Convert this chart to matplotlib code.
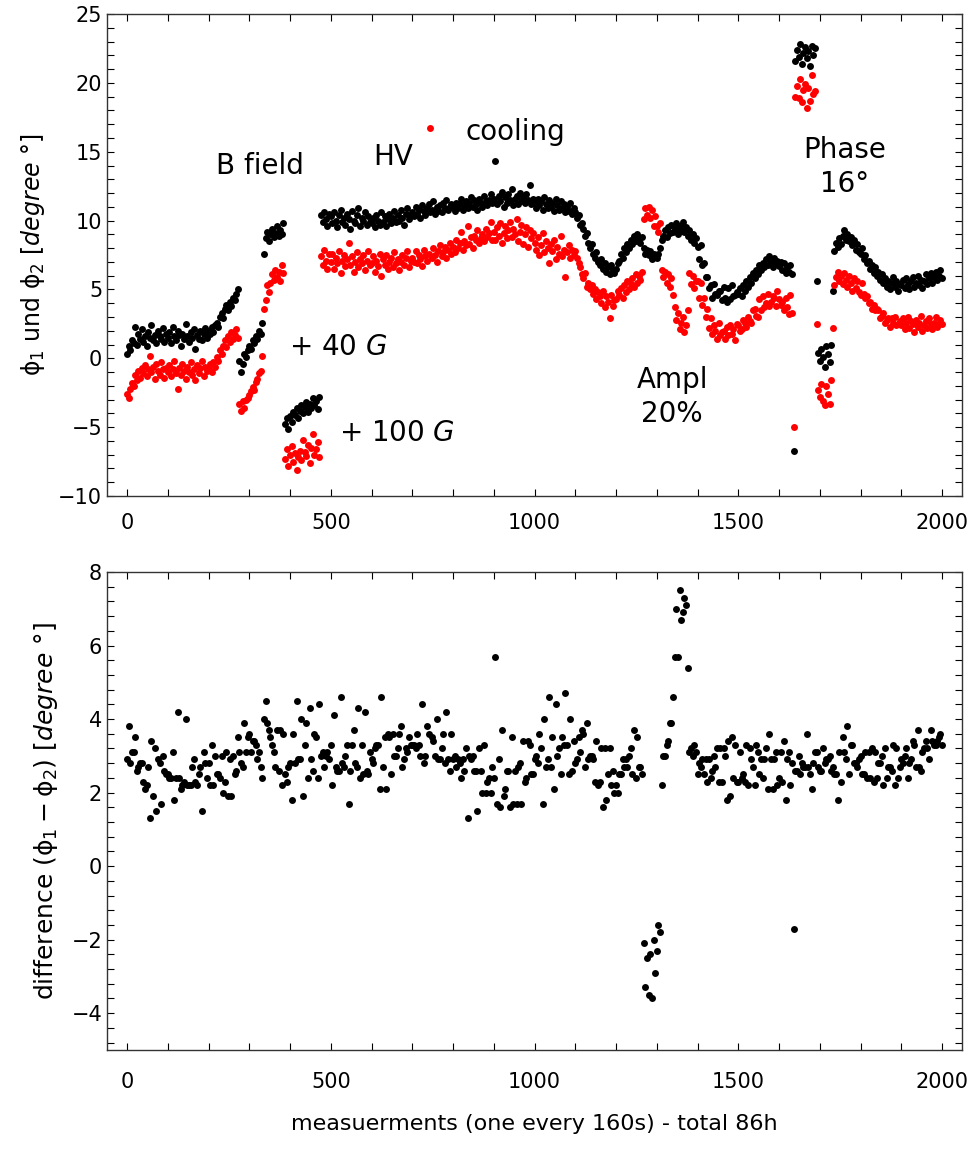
import numpy as np
import matplotlib
matplotlib.use("Agg")
import matplotlib.pyplot as plt
from matplotlib.ticker import MultipleLocator

# measurement index (one every 160 s), sampled every 4th measurement
meas = np.arange(0, 2001, 4)

# phi1 (black), one row per 100 measurements
phi1 = [
 0.3,0.9,0.6,1.3,1.1,2.3,1.0,1.8,1.4,2.1,1.2,1.6,0.9,1.9,1.5,2.4,1.3,1.7,1.1,2.0,1.6,1.4,2.2,1.2,1.8,
 1.5,1.9,1.1,2.3,1.6,1.3,2.0,1.7,0.9,1.8,1.4,2.5,1.6,1.2,1.9,1.5,2.1,0.7,1.7,1.4,2.0,1.3,1.8,2.2,1.5,
 2.0,1.8,2.3,1.9,2.4,2.6,2.3,3.0,3.3,2.9,3.6,3.9,3.5,4.1,3.8,4.4,4.2,4.7,5.0,-0.2,-1.0,-0.4,0.3,0.1,0.6,
 0.9,0.7,1.3,1.1,1.6,1.4,2.0,1.8,2.6,7.6,8.7,9.2,8.5,9.0,9.4,8.8,9.1,9.6,8.9,9.3,9.0,9.8,-4.8,-4.3,-5.1,
 -4.2,-4.6,-3.9,-4.1,-3.6,-4.3,-3.8,-3.4,-4.0,-3.5,-3.2,-3.9,-3.3,-3.6,-2.9,-3.4,-3.1,-3.7,-2.8,10.4,9.9,10.6,10.1,9.6,10.5,
 10.3,9.8,10.6,10.0,9.5,10.4,10.8,9.9,10.2,9.7,10.5,10.1,9.4,10.7,10.0,9.8,10.4,10.9,9.6,10.2,10.0,10.6,9.7,10.3,9.9,
 9.8,10.2,9.5,10.4,10.0,9.7,10.6,9.9,10.3,9.6,10.1,10.5,9.8,10.2,10.7,9.9,10.4,10.0,10.8,10.2,9.7,10.5,10.9,10.1,10.4,
 10.6,10.3,11.0,10.5,10.8,10.2,11.1,10.7,10.4,10.9,11.2,10.6,10.8,11.4,10.5,11.0,10.7,11.1,10.6,11.3,10.9,11.5,10.8,11.0,11.2,
 11.0,10.7,11.3,10.9,11.2,11.6,10.8,11.1,11.4,10.9,11.3,11.7,11.0,11.5,11.2,10.8,11.6,11.3,11.0,11.8,11.4,11.1,11.5,11.9,11.3,
 11.6,14.3,11.2,11.8,11.4,12.1,11.0,11.7,11.3,11.9,11.5,12.3,11.1,11.6,11.8,11.2,12.0,11.4,11.7,11.3,11.9,11.5,12.6,11.2,11.6,
 11.3,10.9,11.6,11.1,11.4,10.8,11.7,11.2,10.9,11.5,11.0,11.3,10.7,11.6,11.1,10.8,11.4,10.9,11.2,10.6,11.0,10.7,11.3,10.5,10.9,
 10.6,10.2,10.4,9.7,9.8,9.4,8.9,9.1,8.4,8.0,8.3,7.6,7.3,7.7,7.0,6.8,7.2,6.5,6.9,6.3,6.6,6.1,6.8,6.4,6.2,
 6.5,6.9,7.1,7.6,7.3,8.0,7.7,8.3,8.0,8.6,8.3,8.9,8.5,9.0,8.7,8.4,8.8,8.0,7.6,7.9,7.5,7.8,7.2,7.6,7.4,
 7.3,7.6,8.0,8.6,8.9,9.3,8.8,9.5,9.1,9.7,9.2,9.4,9.8,9.0,9.6,9.3,9.9,9.2,9.5,8.9,9.3,8.6,9.0,8.4,8.7,
 8.1,7.2,8.2,6.8,6.9,5.9,5.9,5.1,5.3,4.4,5.4,4.7,4.6,4.9,4.9,4.2,5.2,4.4,4.1,5.1,4.3,5.3,4.5,4.6,4.8,
 4.7,5.1,4.5,5.3,4.9,5.6,5.2,5.9,5.5,6.2,5.8,6.4,6.1,6.8,6.4,6.9,6.6,7.2,6.8,7.4,7.0,6.6,7.3,6.9,7.1,
 6.7,7.0,6.4,6.9,6.2,6.6,6.3,6.8,6.1,-6.7,21.6,22.4,21.9,22.8,21.4,22.2,22.6,21.8,22.3,21.2,22.7,22.0,22.5,5.6,0.4,
 -0.2,0.7,0.1,-0.6,0.9,0.3,-0.3,1.0,4.9,7.8,8.4,8.1,8.7,8.3,8.9,9.3,8.6,9.0,8.5,8.8,8.2,8.6,7.9,8.3,7.7,
 7.6,8.0,7.2,7.5,6.9,7.1,6.5,6.8,6.2,6.6,6.0,6.3,5.7,6.1,5.5,5.8,5.2,5.6,5.0,5.5,5.9,5.2,5.6,4.9,5.4,
 5.3,5.7,5.1,5.8,5.4,5.0,5.6,5.9,5.2,5.5,6.0,5.3,5.7,5.1,5.6,6.1,5.4,5.8,6.2,5.5,5.9,6.3,5.7,6.0,6.4,
 5.8,
]

# phi2 (red)
phi2 = [
 -2.6,-2.9,-2.2,-1.8,-2.0,-1.2,-1.6,-0.9,-1.4,-0.7,-1.1,-0.5,-1.3,-0.8,0.2,-1.0,-0.6,-1.5,-0.4,-0.9,-1.2,-0.3,-0.8,-1.4,-0.7,
 -1.0,-0.5,-1.3,-0.8,-0.2,-1.1,-2.2,-0.7,-1.2,-0.4,-0.9,-1.5,-0.6,-1.0,-0.3,-1.2,-0.8,-1.6,-0.5,-1.1,-0.7,-0.2,-1.3,-0.6,-0.9,
 -0.8,-0.4,-1.0,-0.3,-0.6,0.1,-0.2,0.6,0.3,0.9,1.3,0.8,1.6,1.2,1.9,1.4,1.7,2.1,1.5,-3.3,-3.8,-3.1,-3.6,-3.0,-2.9,
 -2.7,-2.4,-2.1,-2.3,-1.7,-1.5,-1.1,-0.9,0.2,3.6,4.2,5.3,4.8,5.5,6.1,5.7,6.4,5.9,6.3,5.6,6.8,6.2,-7.3,-6.6,-7.8,
 -7.0,-6.4,-7.5,-6.9,-8.1,-7.2,-6.7,-7.4,-5.9,-6.8,-7.1,-6.3,-7.6,-6.5,-5.5,-7.0,-6.6,-6.1,-7.2,7.4,6.8,7.9,7.1,6.5,7.6,
 7.0,7.6,6.5,7.3,6.9,7.8,6.2,7.1,7.5,6.7,7.2,8.4,6.8,7.4,6.3,7.0,7.7,6.6,7.2,6.9,7.5,6.4,7.1,7.8,6.8,
 6.9,7.4,6.3,7.1,6.7,7.6,6.0,7.2,6.8,7.5,6.5,7.0,7.3,6.6,7.7,6.9,7.2,6.4,7.0,7.5,6.8,7.3,7.8,6.6,7.1,
 7.3,7.0,7.8,6.9,7.5,7.2,6.7,7.9,7.4,7.1,7.6,16.7,7.3,8.0,7.5,7.0,7.8,8.2,7.4,7.7,8.1,7.3,7.9,8.4,7.6,
 8.1,7.7,8.6,8.0,8.4,9.2,7.9,8.5,8.2,9.6,8.3,8.8,8.0,8.9,8.6,9.3,8.4,8.7,9.0,8.5,9.4,8.8,9.1,9.9,8.6,
 9.2,8.6,9.5,8.9,9.8,8.4,9.1,9.6,8.7,9.3,9.9,8.8,9.4,9.0,10.1,8.5,9.2,9.7,8.3,9.0,9.5,8.1,9.3,8.7,9.1,
 8.4,7.9,8.8,7.5,8.2,9.1,7.7,8.5,8.0,6.9,8.3,7.8,8.6,7.2,8.1,7.6,8.9,7.4,7.9,5.9,7.7,8.2,7.3,7.9,7.5,
 7.8,7.3,6.9,6.6,6.1,5.8,6.2,5.2,5.5,5.0,5.3,4.7,5.0,4.3,4.8,4.5,4.0,4.9,3.7,4.5,4.1,2.9,4.6,3.8,4.2,
 4.3,4.9,4.6,5.1,4.4,5.3,4.8,5.6,5.0,5.4,5.8,5.2,6.1,5.5,6.0,5.7,6.3,10.1,10.9,10.4,11.0,10.2,10.8,9.6,10.3,
 9.6,9.2,9.8,6.4,5.9,6.3,5.5,6.1,5.2,5.8,4.6,3.7,2.8,3.3,2.1,2.6,3.0,1.9,2.4,3.5,6.2,5.4,6.0,5.1,5.6,
 5.6,4.4,5.5,3.9,4.4,3.0,3.6,2.2,2.9,1.8,2.4,2.0,1.4,2.6,1.7,1.9,2.0,1.4,2.3,1.7,2.4,1.8,2.1,1.3,2.5,
 2.4,2.0,2.1,2.8,2.6,2.3,3.0,2.7,2.6,3.5,3.6,3.1,3.0,4.3,3.5,4.5,3.7,4.0,4.7,3.8,4.1,4.5,4.4,3.8,4.9,
 4.3,3.9,4.1,3.5,4.4,3.7,3.2,4.6,3.3,-5.0,19.0,19.8,18.9,20.3,18.6,19.5,19.9,18.2,19.6,18.7,20.6,19.2,19.4,2.5,-2.3,
 -2.8,-1.9,-3.1,-3.4,-2.0,-2.6,-3.3,-1.6,2.2,5.3,5.9,6.3,5.6,6.0,5.4,6.2,5.7,5.2,6.0,5.5,4.9,5.8,5.1,5.6,4.8,
 4.6,5.5,4.7,4.4,4.5,4.0,4.1,3.6,3.9,3.5,3.6,3.5,2.9,3.1,3.3,2.6,2.8,2.9,2.3,2.9,2.6,3.0,2.4,2.5,2.7,
 2.4,2.9,2.1,2.6,3.0,2.2,2.7,2.5,1.9,2.8,2.3,2.6,3.1,2.0,2.4,2.7,2.2,2.9,2.5,2.1,2.6,3.0,2.3,2.5,2.8,
 2.5,
]

x_ticks = [0, 500, 1000, 1500, 2000]

phi1 = np.array(phi1)
phi2 = np.array(phi2)
diff = phi1 - phi2

plt.rcParams['font.family'] = ['DejaVu Sans']
plt.rcParams['mathtext.fontset'] = 'dejavusans'

fig = plt.figure(figsize=(9.73, 11.49), dpi=100)
ax1 = fig.add_axes([0.110, 0.5683, 0.8787, 0.4195])
ax2 = fig.add_axes([0.110, 0.0862, 0.8787, 0.4160])

ms = 5.0
ax1.plot(meas, phi1, 'o', color='black', ms=ms, mew=0, linestyle='none')
ax1.plot(meas, phi2, 'o', color='#ff0000', ms=ms, mew=0, linestyle='none')
ax2.plot(meas, diff, 'o', color='black', ms=ms, mew=0, linestyle='none')

for ax in (ax1, ax2):
    ax.set_xlim(-49, 2049)
    ax.set_xticks(x_ticks)
    ax.xaxis.set_minor_locator(MultipleLocator(100))
    ax.tick_params(which='both', direction='in', top=True, right=True,
                   length=5, width=0.8, labelsize=15)
    for s in ax.spines.values():
        s.set_linewidth(1.0)
        s.set_color('#333333')
ax1.tick_params(axis='x', pad=12)
ax2.tick_params(axis='x', pad=16)

ax1.set_ylim(-10, 25)
ax1.yaxis.set_major_locator(MultipleLocator(5))
ax1.yaxis.set_minor_locator(MultipleLocator(1))
ax1.set_ylabel(r'ϕ$_1$ und ϕ$_2$ [$degree$ °]', fontsize=17, labelpad=8)

ax2.set_ylim(-5, 8)
ax2.yaxis.set_major_locator(MultipleLocator(2))
ax2.yaxis.set_minor_locator(MultipleLocator(0.4))
ax2.set_ylabel(r'difference (ϕ$_1 - $ϕ$_2$) [$degree$ °]', fontsize=18, labelpad=8)
ax2.set_xlabel('measuerments (one every 160s) - total 86h', fontsize=16, labelpad=16)

tfs = 20
ax1.text(326, 14.0, 'B field', fontsize=tfs, ha='center', va='center')
ax1.text(652, 14.6, 'HV', fontsize=tfs, ha='center', va='center')
ax1.text(953, 16.4, 'cooling', fontsize=tfs, ha='center', va='center')
ax1.text(1762, 13.9, 'Phase\n16°', fontsize=tfs, ha='center', va='center', linespacing=1.25)
ax1.text(517, 0.8, r'+ 40 $G$', fontsize=tfs, ha='center', va='center')
ax1.text(662, -5.4, r'+ 100 $G$', fontsize=tfs, ha='center', va='center')
ax1.text(1338, -2.8, 'Ampl\n20%', fontsize=tfs, ha='center', va='center', linespacing=1.25)

fig.savefig('out.png', dpi=100)
